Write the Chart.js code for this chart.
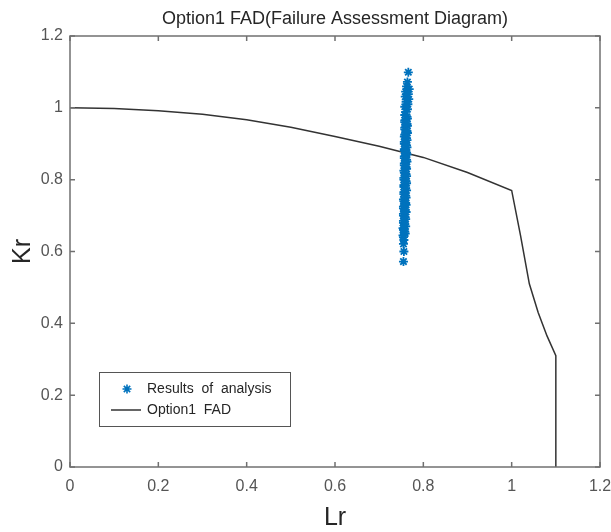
<!DOCTYPE html>
<html>
<head>
<meta charset="utf-8">
<script src="https://cdn.jsdelivr.net/npm/chart.js@4.4.1/dist/chart.umd.min.js"></script>
<style>
  html, body { margin: 0; padding: 0; background: #fff; }
</style>
</head>
<body>
<canvas id="fadChart" width="611" height="532"></canvas>
<script>
// analysis results (Lr, Kr)
var resultsLr = [0.766, 0.764, 0.762, 0.768, 0.760, 0.766, 0.759, 0.767, 0.761, 0.765, 0.758, 0.764, 0.760,
    0.758, 0.764, 0.758, 0.764, 0.758, 0.764, 0.757, 0.763, 0.757, 0.763, 0.757, 0.763, 0.757, 0.763,
    0.757, 0.762, 0.757, 0.762, 0.756, 0.762, 0.756, 0.762, 0.756, 0.761, 0.756, 0.761, 0.755, 0.761,
    0.755, 0.760, 0.755, 0.760, 0.755, 0.759, 0.755,
    0.763, 0.758, 0.763, 0.758, 0.763, 0.758, 0.762, 0.757, 0.762, 0.757, 0.762, 0.757, 0.762,
    0.757, 0.761, 0.756, 0.761, 0.756, 0.761, 0.756, 0.760, 0.756, 0.760, 0.755, 0.760, 0.755,
    0.759, 0.755, 0.759, 0.755, 0.758, 0.754, 0.758, 0.754,
    0.756, 0.755, 0.756, 0.755];
var resultsKr = [1.099, 1.072, 1.060, 1.052, 1.045, 1.038, 1.031, 1.024, 1.017, 1.010, 1.003, 0.996, 0.989,
    0.980, 0.970, 0.960, 0.950, 0.940, 0.930, 0.920, 0.910, 0.900, 0.890, 0.880, 0.870,
    0.860, 0.850, 0.840, 0.830, 0.820, 0.810, 0.800, 0.790, 0.780, 0.770, 0.760, 0.750,
    0.740, 0.730, 0.720, 0.710, 0.700, 0.690, 0.680, 0.670, 0.660, 0.650, 0.640,
    0.975, 0.965, 0.955, 0.945, 0.935, 0.925, 0.915, 0.905, 0.895, 0.885, 0.875, 0.865, 0.855,
    0.845, 0.835, 0.825, 0.815, 0.805, 0.795, 0.785, 0.775, 0.765, 0.755, 0.745, 0.735, 0.725,
    0.715, 0.705, 0.695, 0.685, 0.675, 0.665, 0.655, 0.645,
    0.632, 0.621, 0.600, 0.572];

// Option1 FAD curve
var fadLr = [0, 0.1, 0.2, 0.3, 0.4, 0.5, 0.6, 0.7, 0.8, 0.9, 1.0, 1.02, 1.04, 1.06, 1.08, 1.1, 1.1];
var fadKr = [1.0, 0.998, 0.992, 0.982, 0.967, 0.946, 0.920, 0.893, 0.862, 0.820, 0.770, 0.645, 0.510, 0.430, 0.365, 0.310, 0];

var axisTicks = [0, 0.2, 0.4, 0.6, 0.8, 1.0, 1.2];

var FONT = "'Liberation Sans', Arial, sans-serif";
var blue = '#0072BD';
var lineColor = '#333333';
var tickColor = '#555555';

function toPoints(xs, ys) {
    var pts = [];
    for (var i = 0; i < xs.length; i++) pts.push({ x: xs[i], y: ys[i] });
    return pts;
}

function drawStar(ctx, x, y, r) {
    ctx.beginPath();
    ctx.moveTo(x - r, y); ctx.lineTo(x + r, y);
    ctx.moveTo(x, y - r); ctx.lineTo(x, y + r);
    var d = r * 0.7071;
    ctx.moveTo(x - d, y - d); ctx.lineTo(x + d, y + d);
    ctx.moveTo(x - d, y + d); ctx.lineTo(x + d, y - d);
    ctx.stroke();
}

function tickText(v) {
    return String(Math.round(v * 10) / 10);
}

// box around plot, inward ticks and legend
var framePlugin = {
    id: 'frame',
    afterDraw: function (chart) {
        var ctx = chart.ctx;
        var a = chart.chartArea;
        var xs = chart.scales.x, ys = chart.scales.y;
        ctx.save();
        ctx.strokeStyle = '#707070';
        ctx.lineWidth = 1.5;
        ctx.strokeRect(a.left, a.top, a.right - a.left, a.bottom - a.top);
        ctx.beginPath();
        axisTicks.forEach(function (v) {
            var px = xs.getPixelForValue(v);
            ctx.moveTo(px, a.bottom); ctx.lineTo(px, a.bottom - 5);
            ctx.moveTo(px, a.top); ctx.lineTo(px, a.top + 5);
            var py = ys.getPixelForValue(v);
            ctx.moveTo(a.left, py); ctx.lineTo(a.left + 5, py);
            ctx.moveTo(a.right, py); ctx.lineTo(a.right - 5, py);
        });
        ctx.stroke();

        // legend
        var lx = 99, ly = 372, lw = 191, lh = 54;
        ctx.fillStyle = '#fff';
        ctx.fillRect(lx, ly, lw, lh);
        ctx.strokeStyle = '#555';
        ctx.lineWidth = 1;
        ctx.strokeRect(lx + 0.5, ly + 0.5, lw, lh);
        ctx.strokeStyle = blue;
        ctx.lineWidth = 1.6;
        drawStar(ctx, 127, 389, 4.5);
        ctx.strokeStyle = lineColor;
        ctx.lineWidth = 1.5;
        ctx.beginPath();
        ctx.moveTo(111, 410); ctx.lineTo(141, 410);
        ctx.stroke();
        ctx.fillStyle = '#262626';
        ctx.font = '14px ' + FONT;
        ctx.textBaseline = 'middle';
        ctx.fillText(chart.data.datasets[0].label, 147, 389);
        ctx.fillText(chart.data.datasets[1].label, 147, 410);
        ctx.restore();
    }
};

new Chart(document.getElementById('fadChart'), {
    type: 'scatter',
    data: {
        datasets: [{
            label: 'Results  of  analysis',
            data: toPoints(resultsLr, resultsKr),
            pointStyle: 'star',
            pointRadius: 4.5,
            borderColor: blue,
            backgroundColor: blue,
            pointBorderWidth: 1.8,
            showLine: false,
            order: 0
        }, {
            label: 'Option1  FAD',
            data: toPoints(fadLr, fadKr),
            showLine: true,
            borderColor: lineColor,
            borderWidth: 1.5,
            pointRadius: 0,
            fill: false,
            tension: 0,
            order: 1
        }]
    },
    options: {
        responsive: false,
        animation: false,
        layout: { padding: { left: 0, right: 2, top: 0, bottom: 0 } },
        plugins: {
            legend: { display: false },
            tooltip: { enabled: false },
            title: {
                display: true,
                text: 'Option1 FAD(Failure Assessment Diagram)',
                fullSize: false,
                color: '#262626',
                font: { family: FONT, size: 18, weight: 'normal' },
                padding: { top: 8, bottom: 6.4 }
            }
        },
        scales: {
            x: {
                type: 'linear',
                min: 0,
                max: 1.2,
                afterBuildTicks: function (s) { s.ticks = axisTicks.map(function (v) { return { value: v }; }); },
                ticks: { color: tickColor, font: { family: FONT, size: 16 }, padding: 10, callback: tickText },
                grid: { display: false, drawTicks: false },
                border: { display: false },
                title: { display: true, text: 'Lr', color: '#262626', font: { family: FONT, size: 25, lineHeight: 1.1 }, padding: { top: 0, bottom: 0 } },
                afterFit: function (s) { s.height = 65; s.paddingRight = 11; s.paddingLeft = 0; }
            },
            y: {
                type: 'linear',
                min: 0,
                max: 1.2,
                afterBuildTicks: function (s) { s.ticks = axisTicks.map(function (v) { return { value: v }; }); },
                ticks: { color: tickColor, font: { family: FONT, size: 16 }, padding: 7, callback: tickText },
                grid: { display: false, drawTicks: false },
                border: { display: false },
                title: { display: true, text: 'Kr', color: '#262626', font: { family: FONT, size: 25 }, padding: { top: 8, bottom: 8 } },
                afterFit: function (s) { s.width = 70; s.paddingTop = 0; s.paddingBottom = 0; }
            }
        }
    },
    plugins: [framePlugin]
});
</script>
</body>
</html>
